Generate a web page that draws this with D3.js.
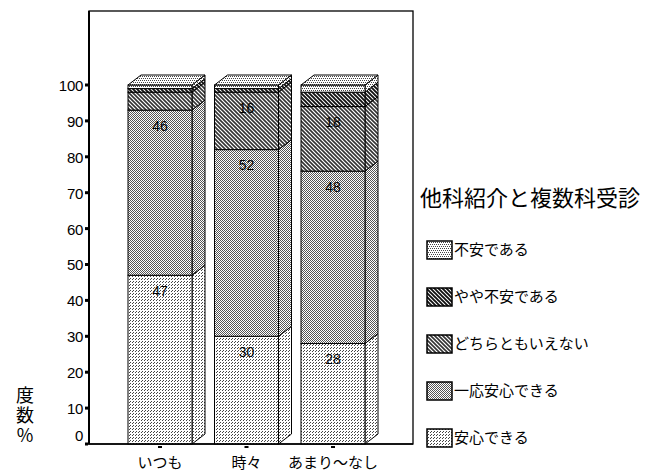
<!DOCTYPE html>
<html>
<head>
<meta charset="utf-8">
<script src="https://cdn.jsdelivr.net/npm/d3@7"></script>
<style>
  body { margin: 0; background: #fff; }
  text { fill: #000; }
</style>
</head>
<body>
<div id="chart"></div>
<script>
// data
const categories = ["いつも", "時々", "あまり〜なし"];
const seriesNames = ["安心できる", "一応安心できる", "どちらともいえない", "やや不安である", "不安である"];
const anshin  = [47, 30, 28];
const ichiou  = [46, 52, 48];
const dochira = [5, 16, 18];
const yaya    = [1, 1, 4];
const fuan    = [1, 1, 2];
const yTicks  = [0, 10, 20, 30, 40, 50, 60, 70, 80, 90, 100];
const legendTitle = "他科紹介と複数科受診";
const yTitle = "度数%";

const seriesValues = [anshin, ichiou, dochira, yaya, fuan];
const patternIds = ["p0", "p1", "p2", "p3", "p4"];

const W = 657, H = 474;
const frame = {left: 89, top: 11, right: 413, bottom: 444};
const depth = {dx: 13, dy: -10};
const barW = 64;

svg = d3.select("#chart")
  .append("svg")
  .attr("width", W)
  .attr("height", H)
  .style("font-family", "'Liberation Sans', Arial, sans-serif");

// fill patterns (halftone-like, black/gray on white)
defs = svg.append("defs");
function pixPattern(id, size, pts, col) {
  const p = defs.append("pattern").attr("id", id)
    .attr("patternUnits", "userSpaceOnUse")
    .attr("width", size).attr("height", size);
  p.append("rect").attr("width", size).attr("height", size).attr("fill", "#fff");
  pts.forEach(d => p.append("rect").attr("x", d[0]).attr("y", d[1])
    .attr("width", 1).attr("height", 1).attr("fill", col)
    .attr("shape-rendering", "crispEdges"));
}
function hatchPattern(id, size, sw, col) {
  const p = defs.append("pattern").attr("id", id)
    .attr("patternUnits", "userSpaceOnUse")
    .attr("width", size).attr("height", size);
  p.append("rect").attr("width", size).attr("height", size).attr("fill", "#fff");
  p.append("path")
    .attr("d", `M-1,-1L${size+1},${size+1}M-1,${size-1}L1,${size+1}M${size-1},-1L${size+1},1`)
    .attr("stroke", col).attr("stroke-width", sw);
}
pixPattern("p0", 3, [[0,0],[1,2]], "#444");
pixPattern("p1", 2, [[0,0],[1,1]], "#555");
hatchPattern("p2", 4, 1.6, "#333");
hatchPattern("p3", 4, 1.9, "#111");
pixPattern("p4", 4, [[0,0],[2,0],[1,2],[3,2]], "#444");

// scales
y = d3.scaleLinear().domain([0, 100]).range([frame.bottom, 85]);
x = d3.scalePoint().domain(categories).range([160, 333]);

// frame
svg.append("rect")
  .attr("x", frame.left).attr("y", frame.top)
  .attr("width", frame.right - frame.left)
  .attr("height", frame.bottom - frame.top)
  .attr("fill", "none").attr("stroke", "#000").attr("stroke-width", 1.3);
svg.append("line")
  .attr("x1", frame.left).attr("x2", frame.left)
  .attr("y1", frame.top).attr("y2", frame.bottom)
  .attr("stroke", "#000").attr("stroke-width", 2);

// y ticks
yg = svg.append("g");
yg.selectAll("rect").data(yTicks).join("rect")
  .attr("x", frame.left - 4).attr("y", d => y(d) - 1.5)
  .attr("width", 3).attr("height", 3).attr("fill", "#000");
yg.selectAll("text").data(yTicks).join("text")
  .attr("x", frame.left - 6)
  .attr("y", d => d === 0 ? y(d) - 7 : y(d) + 2)
  .attr("text-anchor", "end")
  .attr("dominant-baseline", "middle")
  .style("font-size", "15px")
  .style("letter-spacing", "-0.3px")
  .text(d => d);

// stacked 3d bars
categories.forEach((c, i) => {
  const g = svg.append("g");
  const x0 = x(c) - barW / 2, x1 = x0 + barW;
  let acc = 0;
  seriesValues.forEach((vals, s) => {
    const v = vals[i];
    const yb = y(acc), yt = y(acc + v);
    acc += v;
    // side face
    g.append("path")
      .attr("d", `M${x1},${yb}L${x1 + depth.dx},${yb + depth.dy}L${x1 + depth.dx},${yt + depth.dy}L${x1},${yt}Z`)
      .attr("fill", `url(#${patternIds[s]})`)
      .attr("stroke", "#000").attr("stroke-width", 1);
    // front face
    g.append("rect")
      .attr("x", x0).attr("y", yt)
      .attr("width", barW).attr("height", yb - yt)
      .attr("fill", `url(#${patternIds[s]})`)
      .attr("stroke", "#000").attr("stroke-width", 1);
    if (v >= 10) {
      g.append("text")
        .attr("x", x(c)).attr("y", yt + 17)
        .attr("text-anchor", "middle")
        .attr("dominant-baseline", "middle")
        .style("font-size", "14px")
        .text(v);
    }
  });
  // top face
  const yTop = y(acc);
  g.append("path")
    .attr("d", `M${x0},${yTop}L${x0 + depth.dx},${yTop + depth.dy}L${x1 + depth.dx},${yTop + depth.dy}L${x1},${yTop}Z`)
    .attr("fill", "url(#p4)")
    .attr("stroke", "#000").attr("stroke-width", 1);
  // small category tick under the axis
  svg.append("rect")
    .attr("x", x(c) - 2).attr("y", frame.bottom + 2)
    .attr("width", 4).attr("height", 2).attr("fill", "#000");
});

// bottom axis line on top of bars
svg.append("line")
  .attr("x1", frame.left - 2).attr("x2", frame.right)
  .attr("y1", frame.bottom).attr("y2", frame.bottom)
  .attr("stroke", "#000").attr("stroke-width", 1.5);

// category labels
svg.append("g").selectAll("text").data(categories).join("text")
  .attr("x", d => x(d)).attr("y", 464)
  .attr("text-anchor", "middle")
  .attr("dominant-baseline", "middle")
  .style("font-family", "'Noto Sans CJK JP', sans-serif")
  .style("font-size", "15px")
  .text(d => d);

// y title, written vertically
svg.append("text")
  .attr("x", 25).attr("y", 386)
  .style("writing-mode", "vertical-rl")
  .style("text-orientation", "upright")
  .style("letter-spacing", "2px")
  .style("font-family", "'Noto Sans CJK JP', sans-serif")
  .style("font-size", "18px")
  .text(yTitle);

// legend
svg.append("text")
  .attr("x", 420).attr("y", 200)
  .attr("dominant-baseline", "middle")
  .style("font-family", "'Noto Sans CJK JP', sans-serif")
  .style("font-size", "22px")
  .text(legendTitle);

legendOrder = d3.range(seriesNames.length).reverse();
lg = svg.append("g").selectAll("g").data(legendOrder).join("g")
  .attr("transform", (d, i) => `translate(427, ${250 + i * 47})`);
lg.append("rect")
  .attr("x", 0).attr("y", -9)
  .attr("width", 25).attr("height", 18)
  .attr("fill", d => `url(#${patternIds[d]})`)
  .attr("stroke", "#000").attr("stroke-width", 1.5);
lg.append("text")
  .attr("x", 27).attr("y", 1)
  .attr("dominant-baseline", "middle")
  .style("font-family", "'Noto Sans CJK JP', sans-serif")
  .style("font-size", "15px")
  .text(d => seriesNames[d]);
</script>
</body>
</html>
